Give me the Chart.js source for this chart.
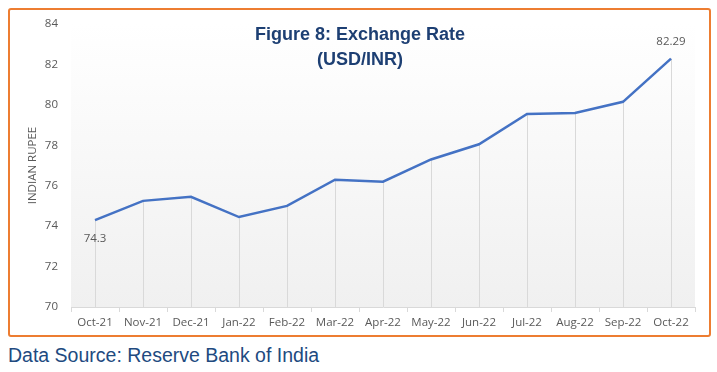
<!DOCTYPE html>
<html>
<head>
<meta charset="utf-8">
<script src="https://cdn.jsdelivr.net/npm/chart.js@4.4.0/dist/chart.umd.min.js"></script>
<style>
    body { margin: 0; background: #ffffff; width: 717px; height: 372px; position: relative; overflow: hidden; }
    #frame { position: absolute; left: 8px; top: 8px; width: 699px; height: 325px; border: 2px solid #ed7d31; border-radius: 3px; }
    #wrap { position: absolute; left: 0; top: 0; width: 717px; height: 340px; }
    #source { position: absolute; left: 8px; top: 344px; font-family: "Liberation Sans", Arial, sans-serif; font-size: 19.5px; color: #214a7f; }
</style>
</head>
<body>
<div id="frame"></div>
<div id="wrap"><canvas id="rate-chart"></canvas></div>
<div id="source">Data Source: Reserve Bank of India</div>

<script>
    const months = ['Oct-21', 'Nov-21', 'Dec-21', 'Jan-22', 'Feb-22', 'Mar-22', 'Apr-22',
        'May-22', 'Jun-22', 'Jul-22', 'Aug-22', 'Sep-22', 'Oct-22'];
    const usdInr = [74.3, 75.25, 75.45, 74.45, 75.0, 76.3, 76.2, 77.3, 78.05, 79.55, 79.6, 80.15, 82.29];
    const yTicks = [70, 72, 74, 76, 78, 80, 82, 84];
    const titleLines = ['Figure 8: Exchange Rate', '(USD/INR)'];

    // фон области графика (градиент) + линии от точек вниз до оси
    const plotDecor = {
        id: 'plotDecor',
        beforeDatasetsDraw(chart) {
            const {ctx, chartArea} = chart;
            const grad = ctx.createLinearGradient(0, chartArea.top, 0, chartArea.bottom);
            grad.addColorStop(0, '#ffffff');
            grad.addColorStop(1, '#f0f0f0');
            ctx.save();
            ctx.fillStyle = grad;
            ctx.fillRect(chartArea.left, chartArea.top, chartArea.right - chartArea.left, chartArea.bottom - chartArea.top);

            ctx.strokeStyle = '#d9d9d9';
            ctx.lineWidth = 1;
            const meta = chart.getDatasetMeta(0);
            meta.data.forEach(pt => {
                const x = Math.round(pt.x) + 0.5;
                ctx.beginPath();
                ctx.moveTo(x, pt.y);
                ctx.lineTo(x, chartArea.bottom);
                ctx.stroke();
            });
            ctx.restore();
        },
        afterDatasetsDraw(chart) {
            const {ctx} = chart;
            const meta = chart.getDatasetMeta(0);
            const first = meta.data[0];
            const last = meta.data[meta.data.length - 1];
            ctx.save();
            ctx.fillStyle = '#595959';
            ctx.font = '11.5px "Open Sans"';
            ctx.textAlign = 'center';
            ctx.textBaseline = 'middle';
            ctx.fillText(String(usdInr[0]), first.x, first.y + 19);
            ctx.fillText(String(usdInr[usdInr.length - 1]), last.x, last.y - 17);

            // заголовок внутри области графика
            ctx.fillStyle = '#1d3f73';
            ctx.font = 'bold 18px "Liberation Sans"';
            ctx.fillText(titleLines[0], 360, 35);
            ctx.fillText(titleLines[1], 360, 60);
            ctx.restore();
        }
    };

    new Chart(document.getElementById('rate-chart'), {
        type: 'line',
        data: {
            labels: months,
            datasets: [{
                data: usdInr,
                borderColor: '#4472c4',
                borderWidth: 2.5,
                pointRadius: 0,
                tension: 0
            }]
        },
        options: {
            responsive: true,
            maintainAspectRatio: false,
            animation: false,
            layout: {padding: {left: 26, right: 22, top: 24, bottom: 8}},
            plugins: {
                legend: {display: false},
                tooltip: {enabled: false}
            },
            scales: {
                x: {
                    offset: true,
                    grid: {display: true, drawOnChartArea: false, drawTicks: true, tickLength: 5, offset: true, color: '#d9d9d9'},
                    border: {display: true, color: '#d9d9d9'},
                    ticks: {color: '#595959', font: {family: 'Open Sans', size: 11.5}, padding: 4, maxRotation: 0, autoSkip: false},
                    afterFit(scale) { scale.height = 25; }
                },
                y: {
                    min: yTicks[0],
                    max: yTicks[yTicks.length - 1],
                    afterBuildTicks(scale) { scale.ticks = yTicks.map(v => ({value: v})); },
                    grid: {display: false, drawTicks: false},
                    border: {display: false},
                    ticks: {color: '#595959', font: {family: 'Open Sans', size: 11.5}, padding: 13},
                    title: {display: true, text: 'INDIAN RUPEE', color: '#595959', font: {family: 'Open Sans', size: 11.5}, padding: {top: 0, bottom: 4}},
                    afterFit(scale) { scale.width = 45; }
                }
            }
        },
        plugins: [plotDecor]
    });
</script>
</body>
</html>
